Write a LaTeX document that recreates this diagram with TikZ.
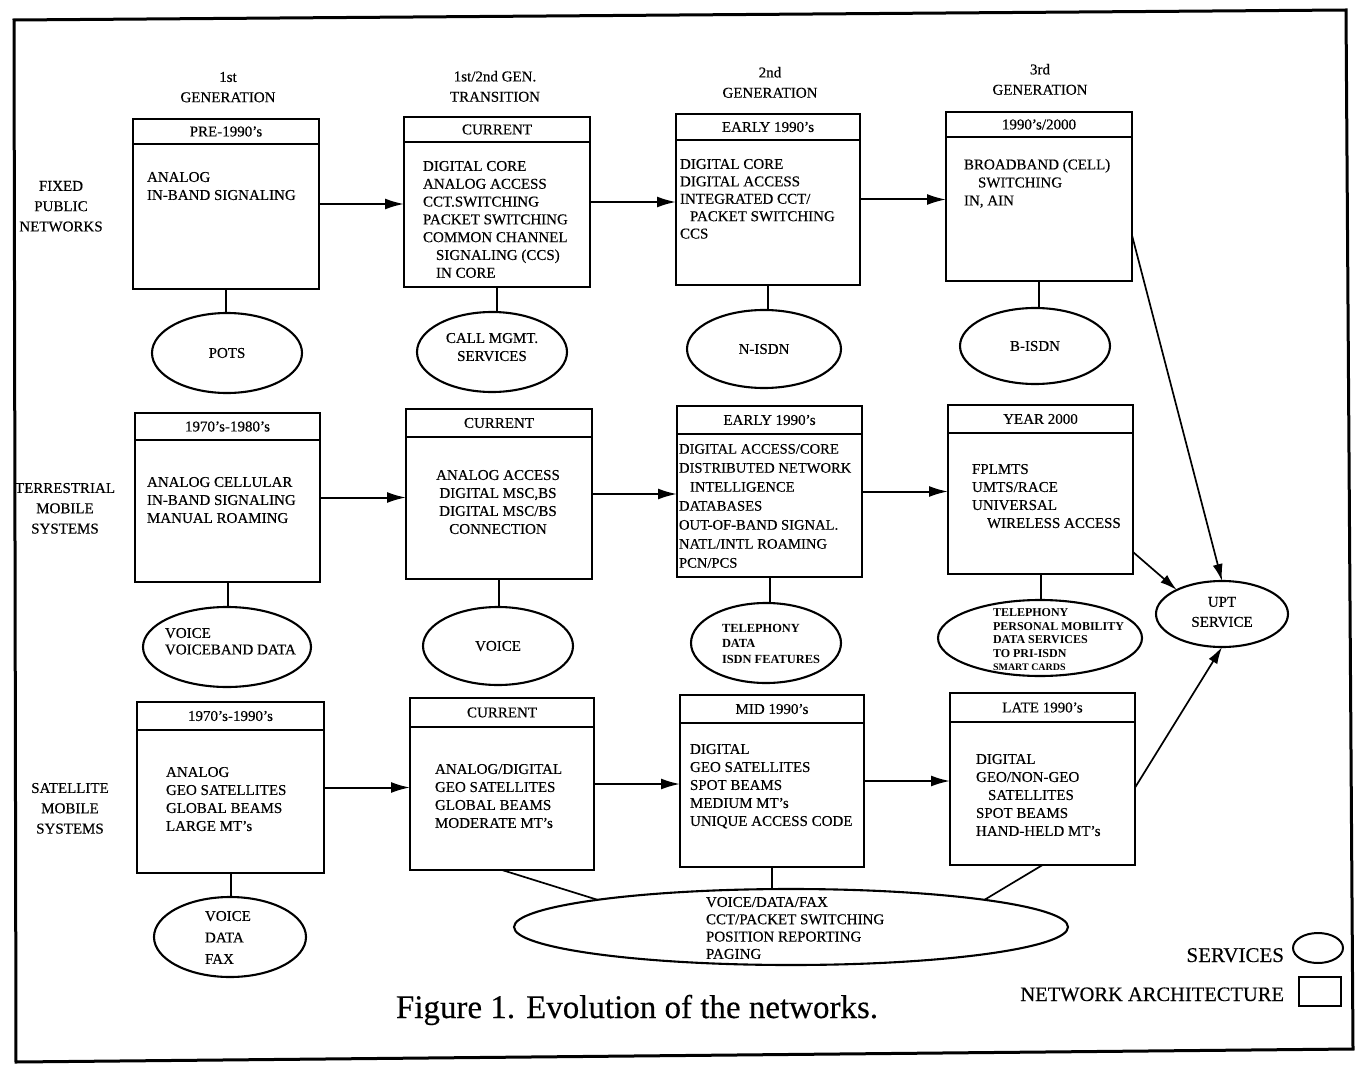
\documentclass[tikz,border=0pt]{standalone}
\usepackage{fontspec}
\setmainfont{Liberation Serif}[UprightFeatures={FakeBold=0.35}]
\usetikzlibrary{arrows.meta,shapes.geometric,fit,calc}
\newcommand{\fsz}[2]{\fontsize{#1}{#2}\selectfont}
\newcommand{\NetBox}[7]{%
  \coordinate (#1-nw) at (#2,#3);
  \coordinate (#1-se) at (#4,#5);
  \node[archbox, fit=(#1-nw)(#1-se)] (#1) {};
  \draw[hdrline] (#2,#6) -- (#4,#6);
  \node[hdrtxt] (#1-h) at ({(#2+#4)/2},{(#3+#6)/2}) {#7};
}
\begin{document}
\begin{tikzpicture}[x=1pt,y=-1pt,
  every node/.style={inner sep=0pt, outer sep=0pt},
  archbox/.style={draw, line width=2.4pt, inner sep=0pt},
  hdrline/.style={line width=2.4pt},
  txt/.style={font=\fsz{15}{18}, align=left, anchor=north west},
  hdrtxt/.style={font=\fsz{15}{18}},
  lbl/.style={font=\fsz{15}{20.3}, align=center, anchor=north},
  svc/.style={draw, ellipse, line width=2.1pt, inner sep=0pt, font=\fsz{15}{18}},
  link/.style={line width=2pt},
  slim/.style={line width=1.7pt},
  flow/.style={line width=2pt, -{Latex[length=19pt,width=11pt]}},
  slimflow/.style={line width=1.7pt, -{Latex[length=17pt,width=10pt]}}
]
\useasboundingbox (0,0) rectangle (1362,1067);
% frame
\draw[line width=3pt] (14,20) -- (1346,10) -- (1353,1049) -- (16,1062) -- cycle;

% column labels
\node[lbl] (c1) at (228,72) {1st\\GENERATION};
\node[lbl] (c2) at (495,71) {1st/2nd GEN.\\TRANSITION};
\node[lbl] (c3) at (770,67) {2nd\\GENERATION};
\node[lbl] (c4) at (1040,64) {3rd\\GENERATION};

% row labels
\node[lbl] (r1) at (61,181) {FIXED\\PUBLIC\\NETWORKS};
\node[lbl] (r2) at (65,483) {TERRESTRIAL\\MOBILE\\SYSTEMS};
\node[lbl] (r3) at (70,783) {SATELLITE\\MOBILE\\SYSTEMS};

% ---- row 1 boxes
\NetBox{B11}{133}{119}{319}{289}{144}{PRE-1990's}
\node[txt] (B11-t) at (147,172) {ANALOG\\IN-BAND SIGNALING};
\NetBox{B12}{404}{117}{590}{287}{142}{CURRENT}
\node[txt, font=\fsz{15}{17.8}] (B12-t) at (423,161) {DIGITAL CORE\\ANALOG ACCESS\\CCT.SWITCHING\\PACKET SWITCHING\\COMMON CHANNEL\\\hspace*{13pt}SIGNALING (CCS)\\\hspace*{13pt}IN CORE};
\NetBox{B13}{676}{114}{860}{285}{140}{EARLY 1990's}
\node[txt, font=\fsz{15}{17.4}] (B13-t) at (680,159) {DIGITAL CORE\\DIGITAL ACCESS\\INTEGRATED CCT/\\\hspace*{10pt}PACKET SWITCHING\\CCS};
\NetBox{B14}{946}{112}{1132}{281}{137}{1990's/2000}
\node[txt] (B14-t) at (964,159) {BROADBAND (CELL)\\\hspace*{14pt}SWITCHING\\IN, AIN};

% ---- row 2 boxes
\NetBox{B21}{135}{413}{320}{582}{440}{1970's-1980's}
\node[txt] (B21-t) at (147,477) {ANALOG CELLULAR\\IN-BAND SIGNALING\\MANUAL ROAMING};
\NetBox{B22}{406}{409}{592}{579}{437}{CURRENT}
\node[txt, align=center, anchor=north] (B22-t) at (498,470) {ANALOG ACCESS\\DIGITAL MSC,BS\\DIGITAL MSC/BS\\CONNECTION};
\NetBox{B23}{677}{406}{862}{577}{434}{EARLY 1990's}
\node[txt, font=\fsz{14.6}{19}] (B23-t) at (679,444) {DIGITAL ACCESS/CORE\\DISTRIBUTED NETWORK\\\hspace*{11pt}INTELLIGENCE\\DATABASES\\OUT-OF-BAND SIGNAL.\\NATL/INTL ROAMING\\PCN/PCS};
\NetBox{B24}{948}{405}{1133}{574}{433}{YEAR 2000}
\node[txt] (B24-t) at (972,464) {FPLMTS\\UMTS/RACE\\UNIVERSAL\\\hspace*{15pt}WIRELESS ACCESS};

% ---- row 3 boxes
\NetBox{B31}{137}{702}{324}{873}{730}{1970's-1990's}
\node[txt] (B31-t) at (166,767) {ANALOG\\GEO SATELLITES\\GLOBAL BEAMS\\LARGE MT's};
\NetBox{B32}{410}{698}{594}{870}{727}{CURRENT}
\node[txt] (B32-t) at (435,764) {ANALOG/DIGITAL\\GEO SATELLITES\\GLOBAL BEAMS\\MODERATE MT's};
\NetBox{B33}{680}{695}{864}{867}{723}{MID 1990's}
\node[txt] (B33-t) at (690,744) {DIGITAL\\GEO SATELLITES\\SPOT BEAMS\\MEDIUM MT's\\UNIQUE ACCESS CODE};
\NetBox{B34}{950}{693}{1135}{865}{722}{LATE 1990's}
\node[txt] (B34-t) at (976,754) {DIGITAL\\GEO/NON-GEO\\\hspace*{12pt}SATELLITES\\SPOT BEAMS\\HAND-HELD MT's};

% ---- services (ellipses)
\node[svc, minimum width=150pt, minimum height=80pt] (E11) at (227,353) {POTS};
\node[svc, minimum width=150pt, minimum height=80pt] (E12) at (492,352) {};
\node[hdrtxt, align=center, anchor=north] (E12-t) at (492,333) {CALL MGMT.\\SERVICES};
\node[svc, minimum width=154pt, minimum height=78pt] (E13) at (764,349) {N-ISDN};
\node[svc, minimum width=150pt, minimum height=76pt] (E14) at (1035,346) {B-ISDN};

\node[svc, minimum width=168pt, minimum height=80pt] (E21) at (227,647) {};
\node[txt, font=\fsz{15}{16.5}] (E21-t) at (165,628) {VOICE\\VOICEBAND DATA};
\node[svc, minimum width=150pt, minimum height=78pt] (E22) at (498,646) {VOICE};
\node[svc, minimum width=150pt, minimum height=80pt] (E23) at (766,643) {};
\node[txt, font=\bfseries\fsz{12.4}{15.5}] (E23-t) at (722,624) {TELEPHONY\\DATA\\ISDN FEATURES};
\node[svc, minimum width=204pt, minimum height=76pt] (E24) at (1040,638) {};
\node[txt, font=\bfseries\fsz{12}{13.5}] (E24-t) at (993,609) {TELEPHONY\\PERSONAL MOBILITY\\DATA SERVICES\\TO PRI-ISDN\\{\fsz{10}{13.5}SMART CARDS}};
\node[svc, minimum width=132pt, minimum height=66pt] (UPT) at (1222,614) {};
\node[hdrtxt, align=center, anchor=north, font=\fsz{15}{20}] (UPT-t) at (1222,597) {UPT\\SERVICE};

\node[svc, minimum width=152pt, minimum height=80pt] (E31) at (230,937) {};
\node[txt, font=\fsz{15}{21.5}] (E31-t) at (205,911) {VOICE\\DATA\\FAX};
\node[svc, minimum width=554pt, minimum height=76pt] (BIG) at (791,927) {};
\node[txt, font=\fsz{15}{17.3}] (BIG-t) at (706,897) {VOICE/DATA/FAX\\CCT/PACKET SWITCHING\\POSITION REPORTING\\PAGING};

% ---- box-to-service links
\draw[link] (B11.south) -- (B11.south |- E11.north);
\draw[link] (B12.south) -- (B12.south |- E12.north);
\draw[link] (B13.south) -- (B13.south |- E13.north);
\draw[link] (B14.south) -- (B14.south |- E14.north);
\draw[link] (B21.south) -- (B21.south |- E21.north);
\draw[link] (B22.south) -- (B22.south |- E22.north);
\draw[link] (B23.south) -- (B23.south |- E23.north);
\draw[link] (B24.south) -- (B24.south |- E24.north);
\draw[link] (B31.south) -- (B31.south |- E31.north);
\draw[slim] (B32.south) -- (BIG.172);
\draw[link] (B33.south) -- (B33.south |- BIG.north);
\draw[slim] (B34.south) -- (BIG.8);

% ---- evolution arrows
\draw[flow] (B11.east) -- (B12.west |- B11.east);
\draw[flow] (B12.east) -- (B13.west |- B12.east);
\draw[flow] (B13.east) -- (B14.west |- B13.east);
\draw[flow] (B21.east) -- (B22.west |- B21.east);
\draw[flow] (B22.east) -- (B23.west |- B22.east);
\draw[flow] (B23.east) -- (B24.west |- B23.east);
\draw[flow] (B31.east) -- (B32.west |- B31.east);
\draw[flow] (B32.east) -- (B33.west |- B32.east);
\draw[flow] (B33.east) -- (B34.west |- B33.east);

% ---- to UPT
\draw[slimflow] ($(B14.north east)!0.73!(B14.south east)$) -- (UPT.north);
\draw[slimflow] ($(B24.north east)!0.87!(B24.south east)$) -- (UPT.152);
\draw[slimflow] ($(B34.north east)!0.55!(B34.south east)$) -- (UPT.south);

% ---- caption & legend
\node[anchor=base, font=\fsz{33}{36}] (cap) at (637,1018) {Figure 1. Evolution of the networks.};
\node[anchor=base east, font=\fsz{21}{24}] (lg1) at (1284,962) {SERVICES};
\node[draw, ellipse, line width=2pt, minimum width=50pt, minimum height=30pt] (lg1s) at (1318,948) {};
\node[anchor=base east, font=\fsz{20.5}{24}] (lg2) at (1284,1001) {NETWORK ARCHITECTURE};
\node[draw, line width=2pt, minimum width=42pt, minimum height=29pt] (lg2s) at (1320,991.5) {};
\end{tikzpicture}
\end{document}
